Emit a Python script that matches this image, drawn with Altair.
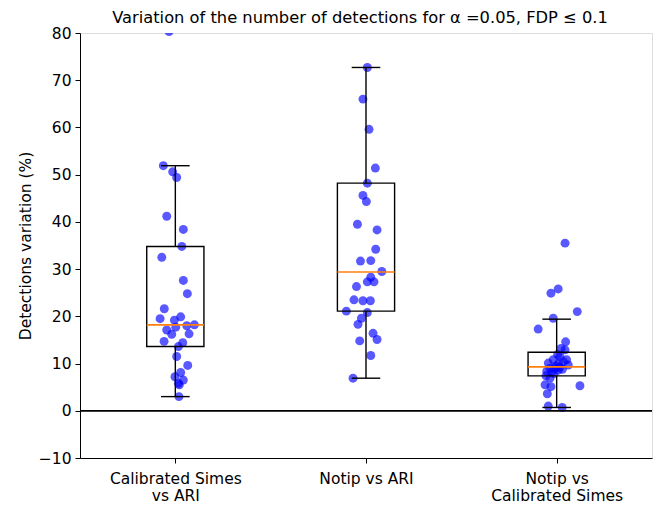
import json
import pandas as pd
import altair as alt

# ------------------------------
#   data
# ------------------------------
groups = [1, 2, 3]
group_labels = [["Calibrated Simes", "vs ARI"], ["Notip vs ARI"], ["Notip vs", "Calibrated Simes"]]

# Calibrated Simes vs ARI
g1_values = [80.3, 51.9, 50.6, 49.4, 41.2, 38.4, 34.8, 32.5, 27.6, 24.8, 21.6, 19.5, 19.2, 19.9,
             18.0, 18.2, 17.7, 17.1, 16.2, 16.3, 14.7, 14.4, 13.6, 11.5, 9.6, 8.1, 7.2, 6.5, 5.8,
             5.5, 3.0]
g1_jitter = [-0.033, -0.063, -0.014, 0.007, -0.045, 0.042, 0.034, -0.071, 0.042, 0.063, -0.058,
             -0.080, -0.005, 0.028, 0.060, 0.100, 0.002, -0.045, -0.019, 0.072, -0.059, 0.039,
             0.016, 0.007, 0.065, 0.028, -0.002, 0.042, 0.016, 0.021, 0.019]

# Notip vs ARI
g2_values = [72.7, 66.0, 59.6, 51.4, 48.2, 45.6, 44.3, 39.5, 38.3, 34.2, 31.7, 31.8, 29.5, 28.3,
             27.3, 27.3, 26.3, 23.5, 23.3, 23.3, 21.1, 20.8, 19.6, 18.3, 16.4, 15.1, 14.8, 11.7, 6.9]
g2_jitter = [0.007, -0.016, 0.016, 0.049, 0.007, -0.016, 0.002, -0.045, 0.058, 0.051, -0.029,
             0.025, 0.083, 0.025, 0.007, 0.042, -0.050, -0.063, -0.016, 0.023, -0.103, 0.007,
             -0.024, -0.042, 0.037, 0.058, -0.033, 0.025, -0.068]

# Notip vs Calibrated Simes
g3_values = [35.5, 25.8, 24.9, 21.0, 19.6, 17.3, 14.6, 13.2, 12.9, 11.5, 10.8, 10.8, 10.1, 10.4,
             9.7, 9.0, 9.2, 9.0, 8.4, 8.2, 8.6, 7.4, 6.9, 5.5, 5.1, 3.6, 5.3, 1.0, 0.7,
             9.5, 10.0, 7.9, 8.8, 11.9]
g3_jitter = [0.044, 0.008, -0.030, 0.108, -0.018, -0.097, 0.047, 0.023, 0.044, 0.017, 0.052,
             -0.018, -0.044, 0.035, 0.061, -0.035, 0.017, -0.009, -0.052, -0.026, 0.008, -0.056,
             -0.035, -0.061, -0.030, -0.049, 0.122, -0.044, 0.029,
             -0.002, 0.010, -0.014, 0.030, 0.005]

# box statistics as drawn (q1, median, q3, whisker ends)
box_q1 = [13.6, 21.1, 7.4]
box_median = [18.2, 29.4, 9.3]
box_q3 = [34.8, 48.2, 12.4]
box_lo = [3.0, 6.9, 0.7]
box_hi = [51.9, 72.7, 19.4]

rows = []
for g, vals, jit in zip(groups, [g1_values, g2_values, g3_values], [g1_jitter, g2_jitter, g3_jitter]):
    for v, j in zip(vals, jit):
        rows.append({"group": g, "jitter": j, "value": v})
points_df = pd.DataFrame(rows)

box_df = pd.DataFrame({
    "group": groups, "q1": box_q1, "median": box_median,
    "q3": box_q3, "lo": box_lo, "hi": box_hi,
})
zero_df = pd.DataFrame({"ref": [0]})

# ------------------------------
#   scales / axes
# ------------------------------
FONT = "DejaVu Sans"
x_scale = alt.Scale(domain=[0.5, 3.5], nice=False, zero=False)
y_scale = alt.Scale(domain=[-10, 80], nice=False, zero=False)

label_expr = " : ".join(
    f"datum.value == {g} ? {json.dumps(lab)}" for g, lab in zip(groups, group_labels)
) + " : ''"

x_axis = alt.Axis(values=groups, labelExpr=label_expr, title=None, grid=False,
                  tickSize=5, labelPadding=8, labelFontSize=15.5, labelLineHeight=17.5,
                  labelFont=FONT, labelColor="black", domainColor="black",
                  tickColor="black", labelBaseline="top")
y_axis = alt.Axis(values=list(range(-10, 81, 10)), title="Detections variation (%)",
                  grid=False, tickSize=5, labelPadding=4, labelFontSize=15.5, labelFont=FONT,
                  labelColor="black", titleFont=FONT, titleFontSize=15.5,
                  titleFontWeight="normal", titleColor="black", titlePadding=5,
                  domainColor="black", tickColor="black")


def xq(field):
    return alt.X(field, type="quantitative", scale=x_scale, axis=x_axis)


def yq(field):
    return alt.Y(field, type="quantitative", scale=y_scale, axis=y_axis)


# jittered points
points = (
    alt.Chart(points_df)
    .transform_calculate(xpos="datum.group + datum.jitter")
    .mark_circle(color="#0000ff", opacity=0.65, size=80, clip=True)
    .encode(x=xq("xpos"), y=yq("value"))
)

box_base = alt.Chart(box_df).transform_calculate(
    left="datum.group - 0.15", right="datum.group + 0.15",
    capl="datum.group - 0.075", capr="datum.group + 0.075",
)

boxes = box_base.mark_rect(fillOpacity=0, stroke="black", strokeWidth=1.4).encode(
    x=xq("left"), x2="right", y=yq("q1"), y2="q3"
)
whisk_hi = box_base.mark_rule(color="black", strokeWidth=1.4).encode(
    x=xq("group"), y=yq("q3"), y2="hi"
)
whisk_lo = box_base.mark_rule(color="black", strokeWidth=1.4).encode(
    x=xq("group"), y=yq("lo"), y2="q1"
)
cap_hi = box_base.mark_rule(color="black", strokeWidth=1.4).encode(
    x=xq("capl"), x2="capr", y=yq("hi")
)
cap_lo = box_base.mark_rule(color="black", strokeWidth=1.4).encode(
    x=xq("capl"), x2="capr", y=yq("lo")
)
medians = box_base.mark_rule(color="#ff7f0e", strokeWidth=1.6).encode(
    x=xq("left"), x2="right", y=yq("median")
)

zero_line = alt.Chart(zero_df).mark_rule(color="black", strokeWidth=1.8).encode(
    y=yq("ref")
)

chart = (
    alt.layer(points, boxes, whisk_hi, whisk_lo, cap_hi, cap_lo, medians, zero_line)
    .properties(
        width=572,
        height=425,
        autosize=alt.AutoSizeParams(type="none"),
        padding={"left": 72, "top": 25, "right": 3, "bottom": 46},
        title=alt.TitleParams(
            "Variation of the number of detections for α =0.05, FDP ≤ 0.1",
            font=FONT, fontSize=16.3, fontWeight="normal", color="black",
            anchor="middle", offset=0, dx=-6,
        ),
    )
    .configure_view(stroke="black", strokeWidth=1.3)
    .configure(background="white")
)

chart.save("out.html", embed_options={"renderer": "svg", "actions": False})
